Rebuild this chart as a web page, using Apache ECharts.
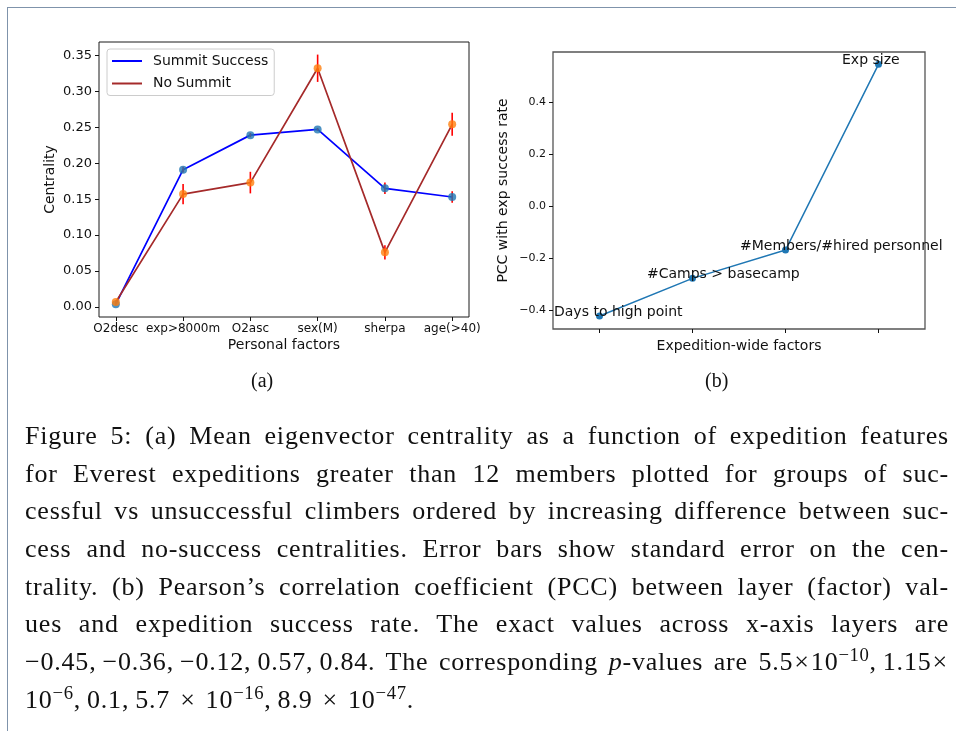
<!DOCTYPE html>
<html>
<head>
<meta charset="utf-8">
<script src="https://cdn.jsdelivr.net/npm/echarts@6/dist/echarts.min.js"></script>
<style>
  html, body { margin: 0; padding: 0; background: #fff; }
  #page { position: relative; width: 956px; height: 731px; overflow: hidden; }
  #edge { position: absolute; left: 7px; top: 7px; right: -2px; bottom: -2px;
          border-top: 1.5px solid #7f93ab; border-left: 1.5px solid #7f93ab; }
  #chart { position: absolute; left: 0; top: 0; width: 956px; height: 731px; }
  #caption { position: absolute; left: 25px; top: 417px; width: 924px;
             font-family: "Liberation Serif", serif; font-size: 26px; color: #111;
             letter-spacing: 0.8px; }
  #caption div { height: 37.7px; line-height: 37.7px; white-space: nowrap;
                 text-align: justify; text-align-last: justify; }
  #caption div.last { text-align: left; text-align-last: left; }
  #caption sup { font-size: 0.72em; line-height: 0; vertical-align: 0.5em; letter-spacing: 0.6px; }
  #caption .op { padding: 0 1px; }
  #caption .last .op { padding: 0 10px; }
</style>
</head>
<body>
<div id="page">
  <div id="edge"></div>
  <div id="chart"></div>
  <div id="caption">
    <div>Figure 5: (a) Mean eigenvector centrality as a function of expedition features</div>
    <div>for Everest expeditions greater than 12 members plotted for groups of suc-</div>
    <div>cessful vs unsuccessful climbers ordered by increasing difference between suc-</div>
    <div>cess and no-success centralities. Error bars show standard error on the cen-</div>
    <div>trality. (b) Pearson’s correlation coefficient (PCC) between layer (factor) val-</div>
    <div>ues and expedition success rate. The exact values across x-axis layers are</div>
    <div>−0.45,&#8201;−0.36,&#8201;−0.12,&#8201;0.57,&#8201;0.84. The corresponding <i>p</i>-values are 5.5<span class="op">×</span>10<sup>−10</sup>,&#8201;1.15<span class="op">×</span></div>
    <div class="last">10<sup>−6</sup>,&#8201;0.1,&#8201;5.7<span class="op">×</span>10<sup>−16</sup>,&#8201;8.9<span class="op">×</span>10<sup>−47</sup>.</div>
  </div>
</div>
<script>
var dom = document.getElementById("chart");
var myChart = echarts.init(dom);

// (a) personal factors
var factors = ['O2desc', 'exp>8000m', 'O2asc', 'sex(M)', 'sherpa', 'age(>40)'];
var summit = [0.004, 0.191, 0.239, 0.247, 0.165, 0.153];
var summitErr = [0.002, 0.004, 0.003, 0.002, 0.008, 0.008];
var noSummit = [0.007, 0.157, 0.173, 0.332, 0.076, 0.254];
var noSummitErr = [0.002, 0.014, 0.015, 0.019, 0.010, 0.016];
var centralityTicks = [0, 0.05, 0.10, 0.15, 0.20, 0.25, 0.30, 0.35];

// (b) expedition-wide factors
var expFactors = ['Days to high point', '#Camps > basecamp', '#Members/#hired personnel', 'Exp size'];
var pcc = [-0.423, -0.278, -0.169, 0.546];
var pccTicks = [-0.4, -0.2, 0.0, 0.2, 0.4];

var font = 'DejaVu Sans';

function idx(arr) {
    return arr.map(function (v, i) { return i; });
}
function pairs(vals) {
    return vals.map(function (v, i) { return [i, v]; });
}
function withErr(vals, errs) {
    return vals.map(function (v, i) { return [i, v, errs[i]]; });
}
function errorBar(params, api) {
    var x = api.value(0), y = api.value(1), e = api.value(2);
    var a = api.coord([x, y + e]);
    var b = api.coord([x, y - e]);
    return {
        type: 'line',
        shape: {x1: a[0], y1: a[1], x2: b[0], y2: b[1]},
        style: {stroke: '#ff0000', lineWidth: 1.6}
    };
}
function minus(v) {
    return v < 0 ? '\u2212' + (-v).toFixed(1) : v.toFixed(1);
}

var tickStyle = {show: true, length: 4, lineStyle: {color: '#111', width: 1}};
var noLine = {show: false, onZero: false};

option = {
    animation: false,
    textStyle: {fontFamily: font},
    grid: [
        {left: 99, top: 42, width: 370, height: 275, show: true,
         borderColor: '#1a1a1a', borderWidth: 1},
        {left: 553, top: 52, width: 372, height: 277, show: true,
         borderColor: '#555', borderWidth: 1.3}
    ],
    legend: {
        data: ['Summit Success', 'No Summit'],
        orient: 'vertical',
        left: 107,
        top: 49,
        padding: [5, 6, 5, 5],
        itemGap: 8.5,
        icon: 'rect',
        itemWidth: 30,
        itemHeight: 2,
        backgroundColor: '#fff',
        borderColor: '#ccc',
        borderWidth: 1,
        borderRadius: 3,
        textStyle: {fontFamily: font, fontSize: 14, color: '#111', padding: [0, 0, 0, 6]}
    },
    xAxis: [
        {
            gridIndex: 0, type: 'value', min: -0.25, max: 5.25,
            name: 'Personal factors', nameLocation: 'middle', nameGap: 21,
            nameTextStyle: {fontFamily: font, fontSize: 14, color: '#111'},
            axisLine: noLine,
            splitLine: {show: false},
            axisTick: Object.assign({customValues: idx(factors)}, tickStyle),
            axisLabel: {
                customValues: idx(factors), margin: 6,
                fontFamily: font, fontSize: 12, color: '#111',
                formatter: function (v) { return factors[Math.round(v)]; }
            }
        },
        {
            gridIndex: 1, type: 'value', min: -0.5, max: 3.5,
            name: 'Expedition-wide factors', nameLocation: 'middle', nameGap: 10,
            nameTextStyle: {fontFamily: font, fontSize: 14, color: '#111'},
            axisLine: noLine,
            splitLine: {show: false},
            axisTick: Object.assign({customValues: idx(expFactors)}, tickStyle),
            axisLabel: {show: false}
        }
    ],
    yAxis: [
        {
            gridIndex: 0, type: 'value', min: -0.0139, max: 0.3685,
            name: 'Centrality', nameLocation: 'middle', nameGap: 42, nameRotate: 90,
            nameTextStyle: {fontFamily: font, fontSize: 14, color: '#111'},
            axisLine: noLine,
            splitLine: {show: false},
            axisTick: Object.assign({customValues: centralityTicks}, tickStyle),
            axisLabel: {
                customValues: centralityTicks, margin: 7,
                fontFamily: font, fontSize: 13, color: '#111',
                formatter: function (v) { return v.toFixed(2); }
            }
        },
        {
            gridIndex: 1, type: 'value', min: -0.473, max: 0.5935,
            name: 'PCC with exp success rate', nameLocation: 'middle', nameGap: 43, nameRotate: 90,
            nameTextStyle: {fontFamily: font, fontSize: 14, color: '#111'},
            axisLine: noLine,
            splitLine: {show: false},
            axisTick: Object.assign({customValues: pccTicks}, tickStyle),
            axisLabel: {
                customValues: pccTicks, margin: 7,
                fontFamily: font, fontSize: 11, color: '#111',
                formatter: minus
            }
        }
    ],
    graphic: [
        {type: 'text', left: 251, top: 372,
         style: {text: '(a)', font: '20px "Liberation Serif"', fill: '#111'}},
        {type: 'text', left: 705, top: 372,
         style: {text: '(b)', font: '20px "Liberation Serif"', fill: '#111'}}
    ],
    series: [
        {
            name: 'Summit Success', type: 'line', xAxisIndex: 0, yAxisIndex: 0,
            symbol: 'none', color: '#0000ff', lineStyle: {width: 1.7, color: '#0000ff'},
            data: pairs(summit), z: 2
        },
        {
            name: 'No Summit', type: 'line', xAxisIndex: 0, yAxisIndex: 0,
            symbol: 'none', color: '#a52a2a', lineStyle: {width: 1.7, color: '#a52a2a'},
            data: pairs(noSummit), z: 2
        },
        {
            name: 'summit error', type: 'custom', xAxisIndex: 0, yAxisIndex: 0,
            renderItem: errorBar, encode: {x: 0, y: 1},
            data: withErr(summit, summitErr), z: 3
        },
        {
            name: 'no summit error', type: 'custom', xAxisIndex: 0, yAxisIndex: 0,
            renderItem: errorBar, encode: {x: 0, y: 1},
            data: withErr(noSummit, noSummitErr), z: 3
        },
        {
            name: 'summit points', type: 'scatter', xAxisIndex: 0, yAxisIndex: 0,
            symbolSize: 8, itemStyle: {color: '#1f77b4'},
            data: pairs(summit), z: 4
        },
        {
            name: 'no summit points', type: 'scatter', xAxisIndex: 0, yAxisIndex: 0,
            symbolSize: 8, itemStyle: {color: '#ff7f0e'},
            data: pairs(noSummit), z: 5
        },
        {
            name: 'PCC', type: 'line', xAxisIndex: 1, yAxisIndex: 1,
            symbol: 'circle', symbolSize: 7, showSymbol: true,
            color: '#1f77b4', lineStyle: {width: 1.5, color: '#1f77b4'},
            itemStyle: {color: '#1f77b4'},
            data: pcc.map(function (v, i) {
                return {
                    value: [i, v],
                    label: {
                        show: true,
                        formatter: expFactors[i],
                        position: [i === pcc.length - 1 ? -33 : -42, -0.5],
                        align: 'left',
                        verticalAlign: 'middle',
                        fontFamily: font,
                        fontSize: 14,
                        color: '#111'
                    }
                };
            })
        }
    ]
};
if (option && typeof option === "object") {
    myChart.setOption(option, true);
}
</script>
</body>
</html>
